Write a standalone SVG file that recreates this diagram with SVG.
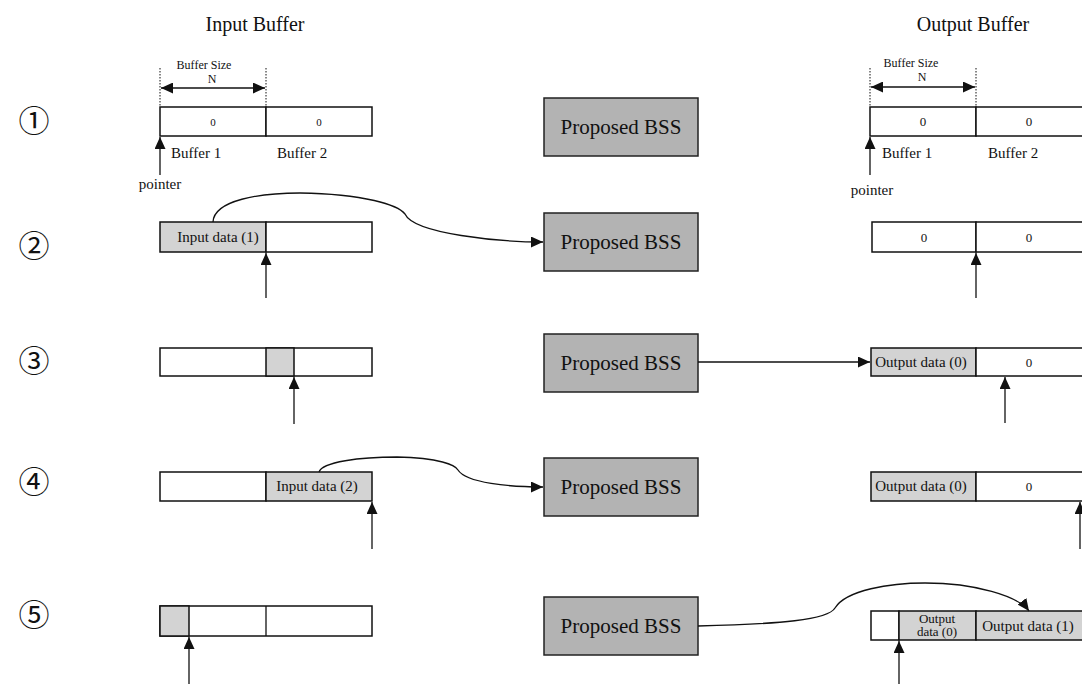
<svg xmlns="http://www.w3.org/2000/svg" width="1082" height="684" viewBox="0 0 1082 684">
<style>
text{font-family:"Liberation Serif","Times New Roman",serif;fill:#111}
.cell{fill:#fff;stroke:#111;stroke-width:1.5}
.g{fill:#d3d3d3;stroke:#111;stroke-width:1.5}
.bss{fill:#b3b3b3;stroke:#222;stroke-width:1.5}
.ln{fill:none;stroke:#111;stroke-width:1.3}
.dot{fill:none;stroke:#111;stroke-width:1;stroke-dasharray:1.5,1.5}
.num{font-family:"Noto Sans CJK JP","DejaVu Sans",sans-serif;font-size:31px;text-anchor:middle}
.t20{font-size:20px;text-anchor:middle}
.t21{font-size:21px;text-anchor:middle}
.t15{font-size:15px;text-anchor:middle}
.t14{font-size:14px;text-anchor:middle}
.t13{font-size:13px;text-anchor:middle}
.t12{font-size:12px;text-anchor:middle}
.t11{font-size:11px;text-anchor:middle}
.lb{font-size:15px}
</style>
<defs>
<marker id="ah" markerUnits="userSpaceOnUse" markerWidth="13" markerHeight="11" refX="12" refY="5.5" orient="auto">
<path d="M0,0 L12,5.5 L0,11 z" fill="#111"/>
</marker>
<marker id="ah2" markerUnits="userSpaceOnUse" markerWidth="13" markerHeight="11" refX="0" refY="5.5" orient="auto">
<path d="M12,0 L0,5.5 L12,11 z" fill="#111"/>
</marker>
</defs>

<text class="t20" x="255" y="31">Input Buffer</text>
<text class="t20" x="973" y="31">Output Buffer</text>

<g id="steps">
<text class="num" x="34" y="132">①</text>
<text class="num" x="34" y="257">②</text>
<text class="num" x="34" y="372">③</text>
<text class="num" x="34" y="493">④</text>
<text class="num" x="34" y="626">⑤</text>
</g>

<!-- Row 1 -->
<g id="in1">
<line class="dot" x1="160" y1="68" x2="160" y2="107"/>
<line class="dot" x1="266" y1="68" x2="266" y2="107"/>
<line class="ln" x1="161" y1="88" x2="265" y2="88" marker-start="url(#ah2)" marker-end="url(#ah)"/>
<text class="t12" x="204" y="69">Buffer Size</text>
<text class="t12" x="212" y="83">N</text>
<rect class="cell" x="160" y="107" width="106" height="29"/>
<rect class="cell" x="266" y="107" width="106" height="29"/>
<text class="t11" x="213" y="126" fill="#444">0</text>
<text class="t11" x="319" y="126" fill="#444">0</text>
<text class="lb" x="171" y="158">Buffer 1</text>
<text class="lb" x="277" y="158">Buffer 2</text>
<text class="t15" x="160" y="189">pointer</text>
</g>
<g id="bss1"><rect class="bss" x="544" y="98" width="154" height="58"/><text class="t21" x="621" y="134">Proposed BSS</text></g>
<g id="out1">
<line class="dot" x1="870" y1="68" x2="870" y2="107"/>
<line class="dot" x1="976" y1="68" x2="976" y2="107"/>
<line class="ln" x1="871" y1="87" x2="975" y2="87" marker-start="url(#ah2)" marker-end="url(#ah)"/>
<text class="t12" x="911" y="67">Buffer Size</text>
<text class="t12" x="922" y="81">N</text>
<rect class="cell" x="870" y="107" width="106" height="29"/>
<rect class="cell" x="976" y="107" width="110" height="29"/>
<text class="t13" x="923" y="126">0</text>
<text class="t13" x="1029" y="126">0</text>
<text class="lb" x="882" y="158">Buffer 1</text>
<text class="lb" x="988" y="158">Buffer 2</text>
<text class="t15" x="872" y="195">pointer</text>
</g>

<!-- Row 2 -->
<g id="in2">
<rect class="g" x="160" y="222" width="106" height="30"/>
<rect class="cell" x="266" y="222" width="106" height="30"/>
<text class="t15" x="218" y="242">Input data (1)</text>
</g>
<g id="bss2"><rect class="bss" x="544" y="213" width="154" height="58"/><text class="t21" x="621" y="249">Proposed BSS</text></g>
<g id="out2">
<rect class="cell" x="872" y="222" width="104" height="30"/>
<rect class="cell" x="976" y="222" width="110" height="30"/>
<text class="t13" x="924" y="242">0</text>
<text class="t13" x="1029" y="242">0</text>
</g>

<!-- Row 3 -->
<g id="in3">
<rect class="cell" x="160" y="348" width="212" height="28"/>
<rect class="g" x="266" y="348" width="28" height="28"/>
</g>
<g id="bss3"><rect class="bss" x="544" y="334" width="154" height="58"/><text class="t21" x="621" y="370">Proposed BSS</text></g>
<g id="out3">
<rect class="g" x="871" y="348" width="105" height="28"/>
<rect class="cell" x="976" y="348" width="110" height="28"/>
<text class="t15" x="921" y="367">Output data (0)</text>
<text class="t13" x="1029" y="367">0</text>
</g>

<!-- Row 4 -->
<g id="in4">
<rect class="cell" x="160" y="472" width="106" height="29"/>
<rect class="g" x="266" y="472" width="106" height="29"/>
<text class="t15" x="317" y="491">Input data (2)</text>
</g>
<g id="bss4"><rect class="bss" x="544" y="458" width="154" height="58"/><text class="t21" x="621" y="494">Proposed BSS</text></g>
<g id="out4">
<rect class="g" x="871" y="472" width="105" height="29"/>
<rect class="cell" x="976" y="472" width="110" height="29"/>
<text class="t15" x="921" y="491">Output data (0)</text>
<text class="t13" x="1029" y="491">0</text>
</g>

<!-- Row 5 -->
<g id="in5">
<rect class="cell" x="160" y="606" width="212" height="30"/>
<rect class="g" x="160" y="606" width="29" height="30"/>
<line class="ln" x1="266" y1="606" x2="266" y2="636" stroke-width="1.5"/>
</g>
<g id="bss5"><rect class="bss" x="544" y="597" width="154" height="58"/><text class="t21" x="621" y="633">Proposed BSS</text></g>
<g id="out5">
<rect class="cell" x="871" y="611" width="28" height="29"/>
<rect class="g" x="899" y="611" width="77" height="29"/>
<rect class="g" x="976" y="611" width="110" height="29"/>
<text class="t13" x="937" y="623">Output</text>
<text class="t13" x="937" y="636">data (0)</text>
<text class="t15" x="1028" y="631">Output data (1)</text>
</g>

<g id="connectors">
<line class="ln" x1="160" y1="175" x2="160" y2="137" marker-end="url(#ah)"/>
<line class="ln" x1="870" y1="175" x2="870" y2="137" marker-end="url(#ah)"/>
<path class="ln" d="M213,222 C214,200 260,193 300,193 C365,194 398,205 405,214 C414,234 500,242 543,242" marker-end="url(#ah)"/>
<line class="ln" x1="266" y1="298" x2="266" y2="253" marker-end="url(#ah)"/>
<line class="ln" x1="976" y1="298" x2="976" y2="253" marker-end="url(#ah)"/>
<line class="ln" x1="698" y1="362" x2="870" y2="362" marker-end="url(#ah)"/>
<line class="ln" x1="294" y1="424" x2="294" y2="377" marker-end="url(#ah)"/>
<line class="ln" x1="1005" y1="423" x2="1005" y2="377" marker-end="url(#ah)"/>
<path class="ln" d="M319,472 C322,462 360,457 397,457 C440,458 455,465 458,470 C466,483 510,487 543,487" marker-end="url(#ah)"/>
<line class="ln" x1="372" y1="549" x2="372" y2="502" marker-end="url(#ah)"/>
<line class="ln" x1="1080" y1="549" x2="1080" y2="502" marker-end="url(#ah)"/>
<path class="ln" d="M698,626 C780,624 828,620 835,608 C846,590 890,583 925,583 C975,583 1018,596 1029,611" marker-end="url(#ah)"/>
<line class="ln" x1="189" y1="684" x2="189" y2="637" marker-end="url(#ah)"/>
<line class="ln" x1="899" y1="684" x2="899" y2="641" marker-end="url(#ah)"/>
</g>
</svg>
